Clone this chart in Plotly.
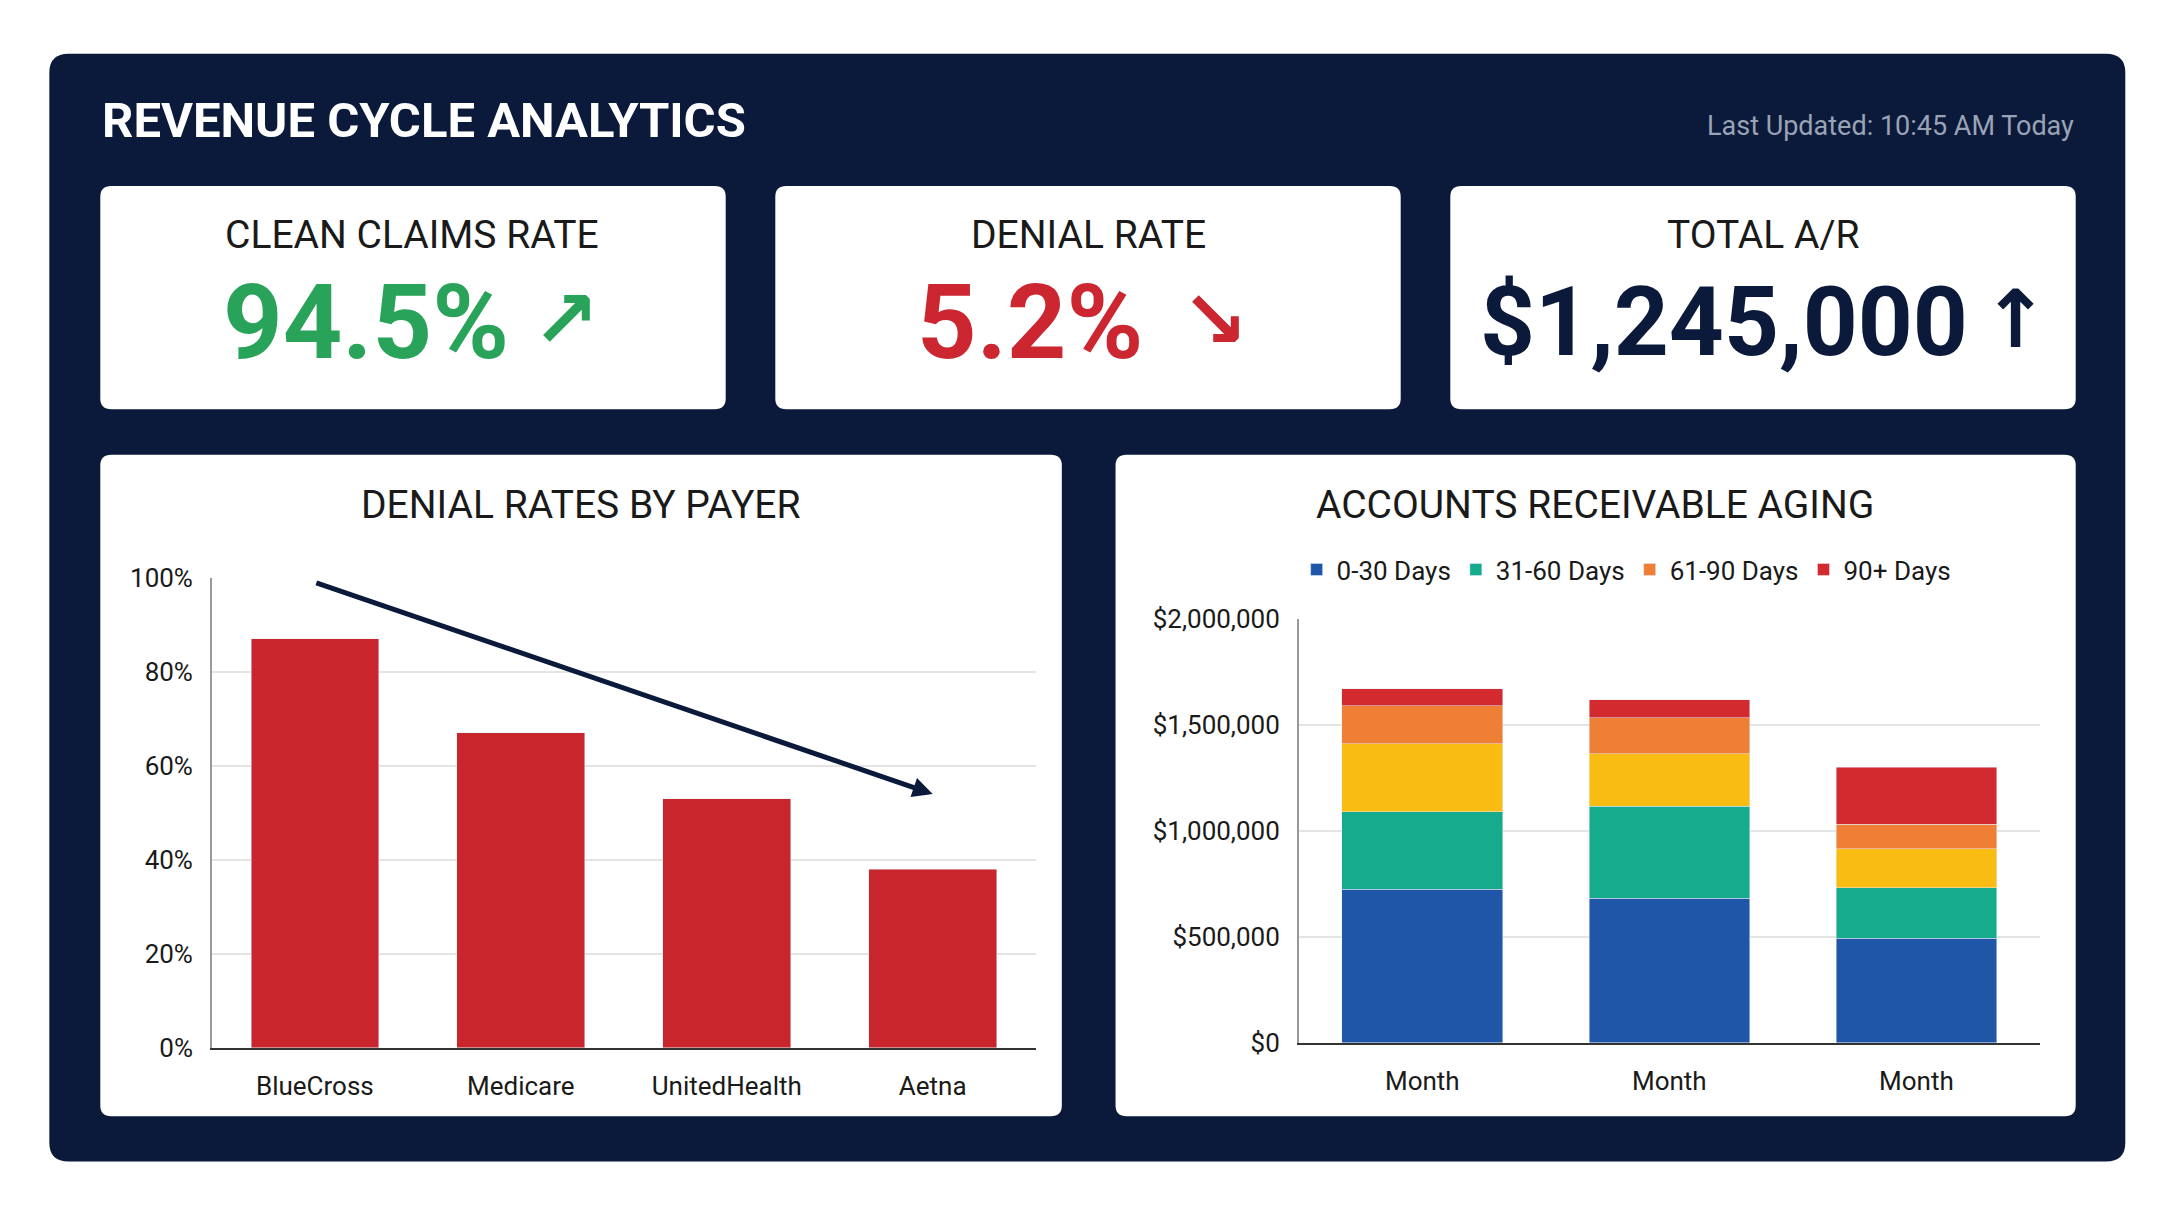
import plotly.graph_objects as go

# data
payers = ["BlueCross", "Medicare", "UnitedHealth", "Aetna"]
denial_rates = [87, 67, 53, 38]

months = ["Month", "Month", "Month"]
ar_0_30 = [725000, 681000, 492000]
ar_31_60 = [365000, 436000, 240000]
ar_mid = [320000, 246000, 183000]      # yellow band, not in legend
ar_61_90 = [180000, 170000, 115000]
ar_90_plus = [80000, 87000, 270000]

kpi_labels = ["CLEAN CLAIMS RATE", "DENIAL RATE", "TOTAL A/R"]
kpi_values = ["94.5%", "5.2%", "$1,245,000"]
kpi_arrows = ["↗", "↘", "↑"]
kpi_colors = ["#2aa35a", "#cc2630", "#0b1a3a"]

W, H = 1568.0, 880.0
NAVY = "#0b1a3a"
FONT = "Roboto"


def px(x):
    return x / W


def py(y):
    return 1 - y / H


def rrect(x0, y0, x1, y1, r, fill):
    rx, ry = r / W, r / H
    a, b, c, d = px(x0), py(y1), px(x1), py(y0)
    path = (f"M{a+rx},{b} L{c-rx},{b} Q{c},{b} {c},{b+ry} L{c},{d-ry} Q{c},{d} {c-rx},{d} "
            f"L{a+rx},{d} Q{a},{d} {a},{d-ry} L{a},{b+ry} Q{a},{b} {a+rx},{b} Z")
    return dict(type="path", path=path, xref="paper", yref="paper",
                fillcolor=fill, line=dict(width=0), layer="below")


fig = go.Figure()

fig.add_trace(go.Bar(x=payers, y=denial_rates, marker_color="#c8252c", width=0.62,
                     showlegend=False, xaxis="x", yaxis="y"))

xs = [0, 1, 2]
for name, vals, col, leg in [("0-30 Days", ar_0_30, "#1f56a8", True),
                             ("31-60 Days", ar_31_60, "#15ab8c", True),
                             ("mid", ar_mid, "#f8bc12", False),
                             ("61-90 Days", ar_61_90, "#ee7f34", True),
                             ("90+ Days", ar_90_plus, "#d22a2f", True)]:
    fig.add_trace(go.Bar(x=xs, y=vals, name=name, marker_color=col, width=0.65,
                         showlegend=leg, xaxis="x2", yaxis="y2"))

shapes = [rrect(30, 23, 1537, 852, 14, NAVY)]
for x0 in [67, 557, 1047]:
    shapes.append(rrect(x0, 122, x0 + 454, 289, 8, "white"))
shapes.append(rrect(67, 323, 765, 818, 8, "white"))
shapes.append(rrect(804, 323, 1501, 818, 8, "white"))

ann = [
    dict(text="<b>REVENUE CYCLE ANALYTICS</b>", x=px(67), y=py(73), xanchor="left",
         font=dict(size=49, color="white")),
    dict(text="Last Updated: 10:45 AM Today", x=px(1501), y=py(77), xanchor="right",
         font=dict(size=27, color="#9aa3b5")),
    dict(text="DENIAL RATES BY PAYER", x=px(416), y=py(361), font=dict(size=39, color="#1a1a1a")),
    dict(text="ACCOUNTS RECEIVABLE AGING", x=px(1152), y=py(361), font=dict(size=39, color="#1a1a1a")),
]
centers = [293, 784, 1274]
value_x = [260, 742, 1246]
value_size = [104, 104, 96]
arrow_x = [405, 876, 1457]
for i in range(3):
    ann.append(dict(text=kpi_labels[i], x=px(centers[i]), y=py(159),
                    font=dict(size=39, color="#1a1a1a")))
    ann.append(dict(text=f"<b>{kpi_values[i]}</b>", x=px(value_x[i]), y=py(224),
                    font=dict(size=value_size[i], color=kpi_colors[i])))
    ann.append(dict(text=f"<b>{kpi_arrows[i]}</b>", x=px(arrow_x[i]), y=py(222),
                    font=dict(size=80, color=kpi_colors[i], family="DejaVu Sans")))
for a in ann:
    a.update(xref="paper", yref="paper", showarrow=False, yanchor="middle")
    a.setdefault("xanchor", "center")
    a["font"].setdefault("family", FONT)

ann.append(dict(x=3, y=54, ax=0, ay=99, xref="x", yref="y", axref="x", ayref="y",
                showarrow=True, arrowhead=2, arrowsize=0.8, arrowwidth=5, arrowcolor=NAVY,
                text=""))

axis_common = dict(tickfont=dict(size=26, color="#1a1a1a", family=FONT), showgrid=False,
                   showline=True, linecolor="#333", linewidth=2, ticks="", ticklabelstandoff=14)
yaxis_common = dict(tickfont=dict(size=26, color="#1a1a1a", family=FONT), showgrid=True,
                    gridcolor="#e4e4e4", gridwidth=1.5, showline=True, linecolor="#999",
                    linewidth=1.5, zeroline=False, ticks="", ticklabelstandoff=12)

fig.update_layout(
    width=2160, height=1206, margin=dict(l=0, r=0, t=0, b=0),
    paper_bgcolor="white", plot_bgcolor="white", barmode="stack",
    shapes=shapes, annotations=ann, bargap=0.35,
    font=dict(family=FONT),
    xaxis=dict(domain=[px(148), px(746)], **axis_common),
    yaxis=dict(domain=[py(767), py(415)], range=[0, 100], dtick=20, ticksuffix="%", **yaxis_common),
    xaxis2=dict(domain=[px(937), px(1475)], anchor="y2", tickvals=xs, ticktext=months,
                range=[-0.5, 2.5], **axis_common),
    yaxis2=dict(domain=[py(763), py(446)], anchor="x2", range=[0, 2000000], dtick=500000,
                tickprefix="$", tickformat=",d", **yaxis_common),
    legend=dict(orientation="h", x=px(1175), y=py(409), xanchor="center", yanchor="middle",
                font=dict(size=26, color="#1a1a1a", family=FONT), traceorder="normal",
                bgcolor="rgba(0,0,0,0)"),
)

fig.write_html("out.html")
